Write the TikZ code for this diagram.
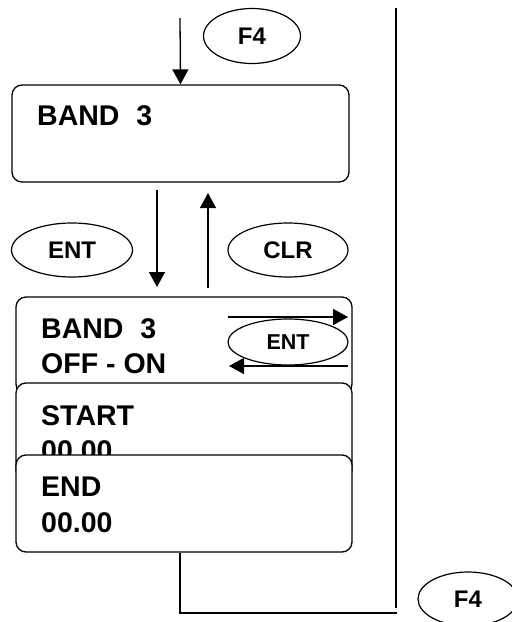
\documentclass[tikz,border=0pt]{standalone}
\usepackage{fontspec}
\setmainfont{Liberation Sans}
\usetikzlibrary{arrows.meta,shapes.geometric}
\begin{document}
\begin{tikzpicture}[x=1pt,y=-1pt,
  box/.style={draw,line width=1.3pt,rounded corners=10pt,fill=white,minimum width=336pt,minimum height=97pt,inner sep=0pt},
  key/.style={draw,line width=1.2pt,ellipse,fill=white,inner sep=0pt,font=\fontsize{24}{24}\selectfont\bfseries},
  lbl/.style={anchor=base west,inner sep=0pt,font=\fontsize{28.5}{28.5}\selectfont\bfseries},
  arr/.style={line width=1.3pt,-{Triangle[length=15pt,width=16pt]}},
  ln/.style={line width=1.3pt}]
\useasboundingbox (0,0) rectangle (512,622);

% top
\coordinate (topstart) at (180,18);
\node[key,minimum width=97pt,minimum height=55pt] (f4a) at (252,36) {F4};
\node[box,minimum width=337pt] (box1) at (180.5,133.5) {};
\node[lbl] (t1) at (37,125) {BAND\hspace{17pt}3};
\draw[arr] (topstart) -- (box1.north);

% right line
\coordinate (rtop) at (396,8);
\coordinate (rbot) at (396,608);
\draw[ln] (rtop) -- (rbot);

% middle keys
\node[key,minimum width=121pt,minimum height=54pt] (ent) at (72,250) {ENT};
\node[key,minimum width=120pt,minimum height=54pt] (clr) at (288,250) {CLR};
\coordinate (d1) at (157,190);
\coordinate (d2) at (157,287);
\coordinate (u1) at (208,288);
\coordinate (u2) at (208,193);
\draw[arr] (d1) -- (d2);
\draw[arr] (u1) -- (u2);

% box 2
\node[box] (box2) at (184,345.5) {};
\node[lbl] (t2a) at (41,338) {BAND\hspace{17pt}3};
\node[lbl] (t2b) at (41,373) {OFF - ON};
\node[key,minimum width=120pt,minimum height=46pt,font=\fontsize{21.5}{21.5}\selectfont\bfseries] (ents) at (288,342) {ENT};
\coordinate (r1) at (228,317);
\coordinate (r2) at (348,317);
\coordinate (l1) at (348,366);
\coordinate (l2) at (229,366);
\draw[arr] (r1) -- (r2);
\draw[arr] (l1) -- (l2);

% box 3
\node[box] (box3) at (184,431.5) {};
\node[lbl] (t3a) at (41,425) {START};
\node[lbl] (t3b) at (41,460) {00.00};

% box 4
\node[box] (box4) at (184,503.5) {};
\node[lbl] (t4a) at (41,496) {END};
\node[lbl] (t4b) at (41,532) {00.00};

% bottom loop
\coordinate (b1) at (180,613);
\coordinate (b2) at (397,613);
\draw[ln] (box4.south -| b1) -- (b1) -- (b2);
\node[key,minimum width=100pt,minimum height=54pt] (f4b) at (468,599) {F4};
\end{tikzpicture}
\end{document}
